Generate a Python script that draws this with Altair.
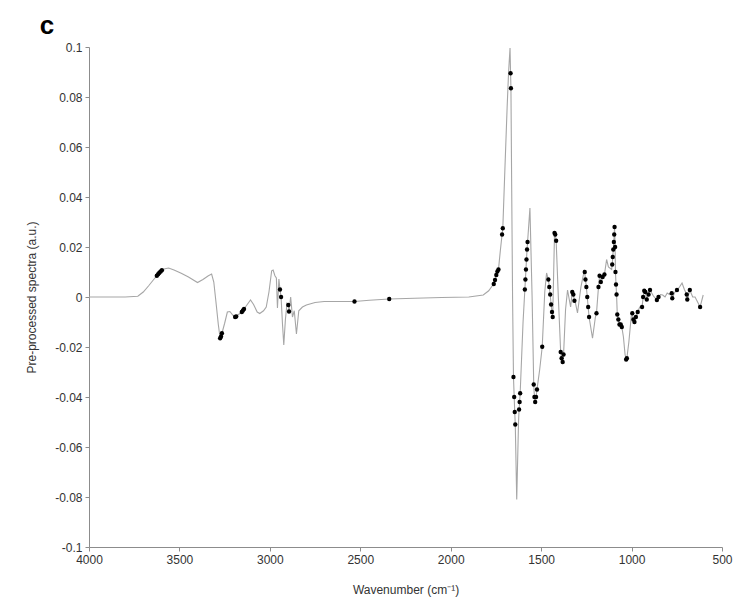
import altair as alt
import pandas as pd

# Spectrum points (wavenumber, value) and selection flag (1 = marked variable)
wavenumber = [4000, 3900, 3800, 3730, 3700, 3670, 3640, 3625, 3618, 3611, 3604, 3597, 3580, 3560, 3530, 3490,
              3450, 3400, 3370, 3340, 3322, 3310, 3298, 3285, 3275, 3270, 3265, 3250, 3235, 3221, 3205, 3192,
              3186, 3170, 3155, 3149, 3143, 3125, 3107, 3090, 3070, 3056, 3035, 3020, 3005, 2990, 2982, 2972,
              2964, 2958, 2950, 2944, 2938, 2930, 2923, 2914, 2905, 2898, 2894, 2885, 2875, 2865, 2853, 2840,
              2820, 2798, 2750, 2700, 2600, 2532, 2450, 2340, 2200, 2050, 1900, 1820, 1790, 1770, 1762, 1755,
              1748, 1742, 1736, 1725, 1716, 1712, 1700, 1688, 1680, 1672, 1669, 1667, 1663, 1658, 1653, 1649,
              1646, 1643, 1635, 1625, 1622, 1619, 1616, 1600, 1590, 1587, 1584, 1581, 1578, 1575, 1562, 1550,
              1541, 1537, 1533, 1528, 1523, 1508, 1494, 1480, 1470, 1460, 1455, 1450, 1445, 1440, 1436, 1426,
              1422, 1417, 1405, 1392, 1387, 1381, 1376, 1365, 1354, 1337, 1328, 1322, 1316, 1310, 1299, 1280,
              1262, 1259, 1255, 1250, 1245, 1240, 1235, 1216, 1200, 1194, 1183, 1177, 1170, 1160, 1150, 1138,
              1128, 1110, 1107, 1104, 1101, 1098, 1096, 1094, 1091, 1089, 1086, 1083, 1079, 1073, 1067, 1060,
              1054, 1045, 1036, 1030, 1026, 1015, 1000, 996, 990, 984, 976, 966, 955, 942, 936, 930,
              924, 916, 906, 898, 880, 860, 851, 840, 828, 815, 803, 790, 778, 775, 762, 749,
              735, 721, 708, 695, 692, 678, 662, 649, 635, 621, 604]

spectrum = [0.0, 0.0, 0.0, 0.0003, 0.002, 0.0045, 0.0072, 0.0085, 0.0091, 0.0097, 0.0102, 0.0107, 0.0113, 0.0116, 0.0108, 0.0095,
            0.008, 0.0058, 0.007, 0.0085, 0.0092, 0.006, -0.002, -0.011, -0.0165, -0.0158, -0.0145, -0.0105, -0.006, -0.0058, -0.0072, -0.008,
            -0.0078, -0.0068, -0.006, -0.0054, -0.0048, -0.003, -0.0012, -0.003, -0.006, -0.0066, -0.0055, -0.004, 0.002, 0.0105, 0.0108, 0.0085,
            0.0076, -0.0044, 0.0072, 0.003, 0.0, -0.011, -0.0192, -0.009, -0.0025, -0.0032, -0.0058, 0.0, -0.008, -0.0055, -0.0148, -0.0055,
            -0.004, -0.0032, -0.0022, -0.0018, -0.0018, -0.0018, -0.0013, -0.0008, -0.0005, -0.0002, 0.0, 0.0008, 0.0025, 0.0045, 0.0052, 0.0068,
            0.0088, 0.0102, 0.011, 0.019, 0.025, 0.0275, 0.052, 0.076, 0.09, 0.0996, 0.0895, 0.0835, 0.045, 0.0, -0.032, -0.04,
            -0.046, -0.051, -0.081, -0.05, -0.045, -0.042, -0.0385, -0.01, 0.003, 0.007, 0.011, 0.015, 0.019, 0.022, 0.0356, 0.0,
            -0.035, -0.04, -0.042, -0.04, -0.037, -0.029, -0.0199, 0.002, 0.0096, 0.007, 0.004, 0.001, -0.003, -0.006, -0.008, 0.0256,
            0.025, 0.0225, 0.0, -0.022, -0.0245, -0.026, -0.023, -0.005, 0.0028, -0.004, 0.002, 0.001, -0.0015, -0.0025, -0.0064, 0.004,
            0.0105, 0.01, 0.007, 0.004, 0.0, -0.004, -0.008, -0.0165, -0.008, -0.0065, 0.004, 0.0085, 0.006, 0.008, 0.009, 0.015,
            0.012, 0.011, 0.013, 0.016, 0.019, 0.022, 0.025, 0.028, 0.02, 0.01, 0.005, 0.001, -0.007, -0.009, -0.011, -0.011,
            -0.012, -0.016, -0.023, -0.025, -0.0245, -0.018, -0.0064, -0.0065, -0.009, -0.01, -0.008, -0.006, -0.004, -0.004, 0.0, 0.0025,
            0.002, -0.001, 0.001, 0.0028, 0.0005, -0.0012, 0.0, 0.001, 0.0008, 0.0, 0.0016, 0.001, 0.0015, -0.0005, 0.0018, 0.0028,
            0.004, 0.0056, 0.003, 0.001, -0.001, 0.0028, 0.0, 0.0, -0.002, -0.004, 0.0008]

selected = [0, 0, 0, 0, 0, 0, 0, 1, 1, 1, 1, 1, 0, 0, 0, 0,
            0, 0, 0, 0, 0, 0, 0, 0, 1, 1, 1, 0, 0, 0, 0, 1,
            1, 0, 1, 1, 1, 0, 0, 0, 0, 0, 0, 0, 0, 0, 0, 0,
            0, 0, 0, 1, 1, 0, 0, 0, 0, 1, 1, 0, 0, 0, 0, 0,
            0, 0, 0, 0, 0, 1, 0, 1, 0, 0, 0, 0, 0, 0, 1, 1,
            1, 1, 1, 0, 1, 1, 0, 0, 0, 0, 1, 1, 0, 0, 1, 1,
            1, 1, 0, 0, 1, 1, 1, 0, 1, 1, 1, 1, 1, 1, 0, 0,
            1, 1, 1, 1, 1, 0, 1, 0, 0, 1, 1, 1, 1, 1, 1, 1,
            1, 1, 0, 1, 1, 1, 1, 0, 0, 0, 1, 1, 1, 0, 0, 0,
            0, 1, 1, 1, 1, 1, 1, 0, 0, 1, 1, 1, 1, 1, 1, 0,
            0, 0, 1, 1, 1, 1, 1, 1, 1, 1, 1, 1, 1, 1, 1, 1,
            1, 0, 0, 1, 1, 0, 0, 1, 1, 1, 1, 1, 0, 1, 1, 1,
            1, 1, 1, 1, 0, 1, 1, 0, 0, 0, 0, 0, 1, 1, 0, 1,
            0, 0, 0, 1, 1, 1, 0, 0, 0, 1, 0]

x_ticks = [500, 1000, 1500, 2000, 2500, 3000, 3500, 4000]
y_ticks = [-0.1, -0.08, -0.06, -0.04, -0.02, 0, 0.02, 0.04, 0.06, 0.08, 0.1]
panel_label = ["c"]

df = pd.DataFrame({"wn": wavenumber, "val": spectrum, "sel": selected})
dots = df[df["sel"] == 1]

FONT = "Liberation Sans"

x_enc = alt.X("wn:Q",
              scale=alt.Scale(domain=[500, 4000], reverse=True, nice=False, zero=False),
              axis=alt.Axis(values=x_ticks, format="d", title="Wavenumber (cm⁻¹)",
                            grid=False, labelFlush=False, labelOverlap=False,
                            titleY=42, titleBaseline="middle"))
y_enc = alt.Y("val:Q",
              scale=alt.Scale(domain=[-0.1, 0.1], nice=False, zero=False),
              axis=alt.Axis(values=y_ticks, labelExpr="'' + datum.value",
                            title="Pre-processed spectra (a.u.)", grid=False,
                            labelOverlap=False, titleX=-51))

line = alt.Chart(df).mark_line(color="#a6a6a6", strokeWidth=1.1, interpolate="linear").encode(
    x=x_enc, y=y_enc, order=alt.Order("wn:Q", sort="descending"))

points = alt.Chart(dots).mark_circle(color="black", size=19, opacity=1).encode(x="wn:Q", y="val:Q")

label = alt.Chart(pd.DataFrame({"t": panel_label})).mark_text(
    font=FONT, fontSize=26, fontWeight="bold", color="black", align="center", baseline="alphabetic"
).encode(text="t:N", x=alt.value(-42), y=alt.value(-13))

chart = alt.layer(line, points, label).properties(
    width=633, height=500,
    autosize=alt.AutoSizeParams(type="none"),
    padding={"left": 81, "top": 39, "right": 11, "bottom": 50},
).configure_view(stroke=None).configure_axis(
    domainColor="#8c8c8c", tickColor="#8c8c8c", tickSize=4,
    labelColor="#333333", labelFont=FONT, labelFontSize=12, labelPadding=3,
    titleColor="#333333", titleFont=FONT, titleFontSize=12, titleFontWeight="normal",
)

chart.save("out.html", embed_options={"renderer": "svg", "actions": False})
